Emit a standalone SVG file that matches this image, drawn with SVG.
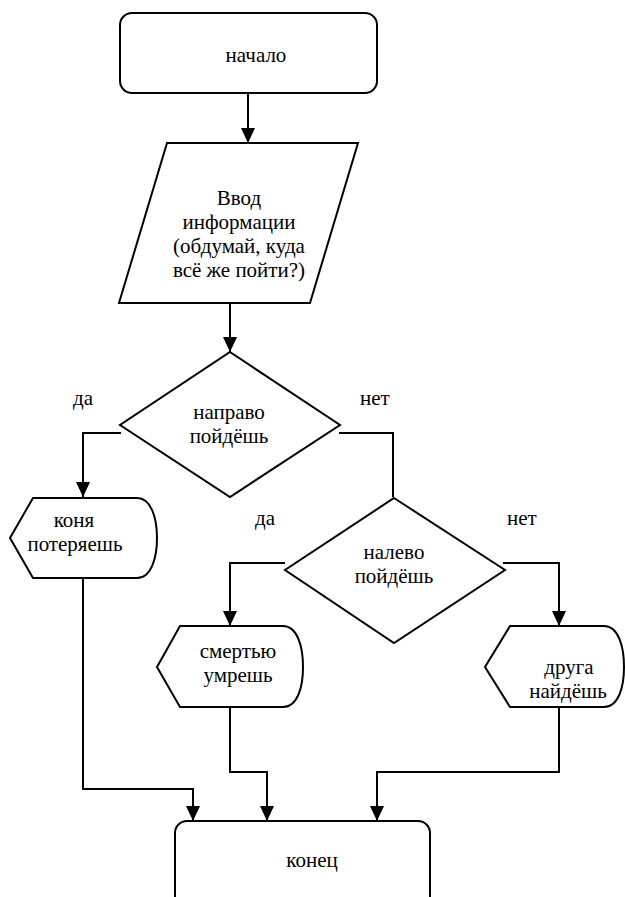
<svg xmlns="http://www.w3.org/2000/svg" width="625" height="897" viewBox="0 0 625 897" font-family="'Liberation Serif', 'Times New Roman', serif" font-size="21">
<defs>
<style>
.n{fill:#fff;stroke:#000;stroke-width:2;stroke-linejoin:miter}
.c{fill:none;stroke:#000;stroke-width:2}
.t{text-anchor:middle}
</style>
<marker id="ah" markerUnits="userSpaceOnUse" markerWidth="15" markerHeight="14" refX="15" refY="7" orient="auto">
<path d="M0,0 L15,7 L0,14 Z" fill="#000"/>
</marker>
</defs>
<rect width="625" height="897" fill="#fff"/>
<g id="start">
<rect class="n" x="120" y="13" width="257" height="80" rx="12"/>
<text class="t" x="256" y="62">начало</text>
</g>
<g id="input">
<polygon class="n" points="167,143 358,143 310,303 119,303"/>
<text class="t" x="239" y="205">Ввод</text>
<text class="t" x="239" y="229">информации</text>
<text class="t" x="239" y="253">(обдумай, куда</text>
<text class="t" x="239" y="277">всё же пойти?)</text>
</g>
<g id="dec1">
<polygon class="n" points="230,352 340,425 230,497 120,425"/>
<text class="t" x="229" y="419">направо</text>
<text class="t" x="229" y="443">пойдёшь</text>
</g>
<g id="horse">
<path class="n" d="M33,498 H137 C152,498 157,520 157,538 C157,556 152,578 137,578 H33 L10,538 Z"/>
<text class="t" x="74" y="527">коня</text>
<text class="t" x="75" y="551">потеряешь</text>
</g>
<g id="dec2">
<polygon class="n" points="394,498 505,570 394,643 285,570"/>
<text class="t" x="394" y="559">налево</text>
<text class="t" x="394" y="583">пойдёшь</text>
</g>
<g id="death">
<path class="n" d="M180,626 H283 C298,626 303,648 303,667 C303,686 298,707 283,707 H180 L157,667 Z"/>
<text class="t" x="238" y="658">смертью</text>
<text class="t" x="238" y="682">умрешь</text>
</g>
<g id="friend">
<path class="n" d="M510,626 H604 C619,626 624,648 624,667 C624,686 619,707 604,707 H510 L485,667 Z"/>
<text class="t" x="569" y="674">друга</text>
<text class="t" x="568" y="698">найдёшь</text>
</g>
<g id="end">
<rect class="n" x="175" y="821" width="255" height="95" rx="12"/>
<text class="t" x="312" y="867">конец</text>
</g>
<g id="labels">
<text x="73" y="405">да</text>
<text x="360" y="405">нет</text>
<text x="255" y="525">да</text>
<text x="507" y="525">нет</text>
</g>
<g id="connectors">
<path class="c" d="M248,93 V143" marker-end="url(#ah)"/>
<path class="c" d="M230,303 V352" marker-end="url(#ah)"/>
<path class="c" d="M121,433 H83 V497" marker-end="url(#ah)"/>
<path class="c" d="M339,433 H393 V497"/>
<path class="c" d="M285,563 H230 V626" marker-end="url(#ah)"/>
<path class="c" d="M503,563 H559 V626" marker-end="url(#ah)"/>
<path class="c" d="M83,578 V789 H193 V821" marker-end="url(#ah)"/>
<path class="c" d="M230,707 V772 H267 V821" marker-end="url(#ah)"/>
<path class="c" d="M559,707 V772 H377 V821" marker-end="url(#ah)"/>
</g>
</svg>
